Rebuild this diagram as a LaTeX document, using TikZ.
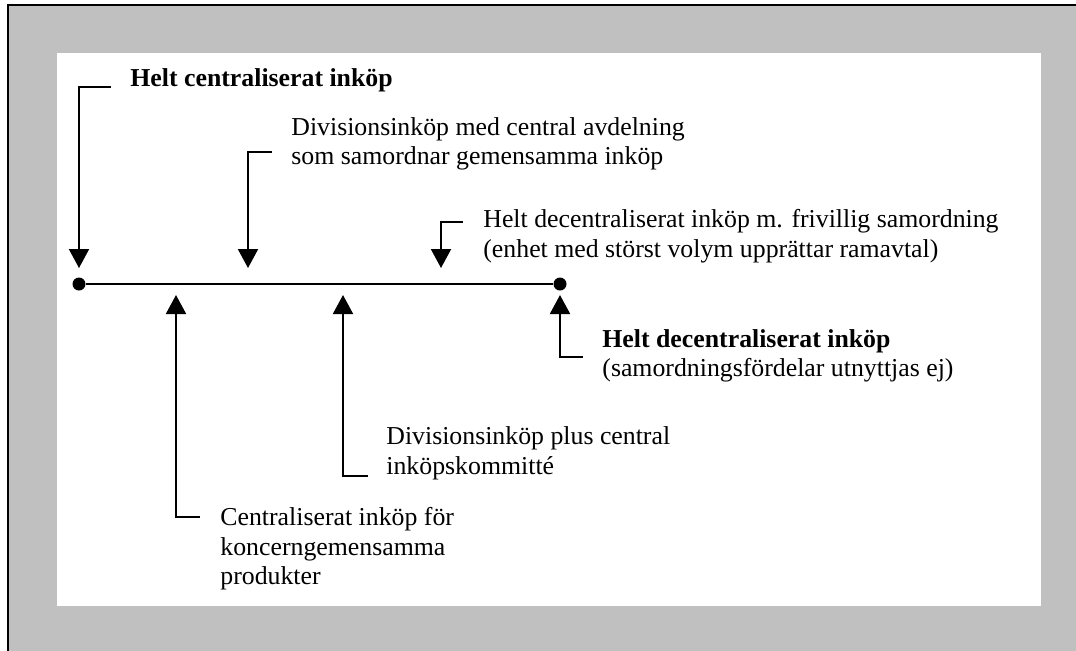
\documentclass[tikz,border=0pt]{standalone}
\usepackage{fontspec}
\setmainfont{Liberation Serif}
\usepackage{tikz}
\usetikzlibrary{arrows.meta}
\usetikzlibrary{positioning}
\definecolor{framegray}{RGB}{192,192,192}
\tikzset{lbl/.style={anchor=west, align=left, inner sep=0pt, font=\fontsize{12.9}{14.8}\selectfont}, pointer/.style={line width=1pt, -{Triangle[width=10pt,length=9.5pt]}}, down/.style={pointer, shorten >=8pt}, up/.style={pointer, shorten >=5.5pt}, dot/.style={circle, fill=black, inner sep=0pt, minimum size=6.5pt}}

\begin{document}
\begin{tikzpicture}[x=0.5pt, y=-0.5pt]
\clip (0, 0) rectangle (1076, 650);
% frame
\fill[framegray] (8, 5) rectangle (1090, 665);
\draw[line width=1pt] (8, 665) -- (8, 5) -- (1090, 5);
\fill[white] (57, 53) rectangle (1041, 606);
% axis
\node[dot] (left) at (79, 284) {};
\node[dot] (right) at (560, 284) {};
\draw[line width=1pt] (left) -- (right);
\coordinate (a1) at (79, 284);
\coordinate (a2) at (248, 284);
\coordinate (a3) at (441, 284);
\coordinate (a4) at (560, 284);
\coordinate (a5) at (176, 284);
\coordinate (a6) at (343, 284);
% labels
\node[lbl, font=\fontsize{12.9}{14.8}\selectfont\bfseries] (t1) at (130, 80) {Helt centraliserat inköp};
\node[lbl] (t2) at (291, 144) {Divisionsinköp med central avdelning\\som samordnar gemensamma inköp};
\node[lbl] (t3) at (483, 236) {Helt decentraliserat inköp m. frivillig samordning\\(enhet med störst volym upprättar ramavtal)};
\node[lbl] (t4) at (602, 356) {\textbf{Helt decentraliserat inköp}\\(samordningsfördelar utnyttjas ej)};
\node[lbl] (t5) at (220, 549) {Centraliserat inköp för\\koncerngemensamma\\produkter};
\node[lbl] (t6) at (386, 453) {Divisionsinköp plus central\\inköpskommitté};
% stubs
\coordinate (s1) at (111, 87);
\coordinate (s2) at (272, 152);
\coordinate (s3) at (463, 222);
\coordinate (s4) at (583, 357);
\coordinate (s5) at (200, 517);
\coordinate (s6) at (368, 476);
\draw[down] (s1) -| (a1);
\draw[down] (s2) -| (a2);
\draw[down] (s3) -| (a3);
\draw[up] (s4) -| (a4);
\draw[up] (s5) -| (a5);
\draw[up] (s6) -| (a6);
\end{tikzpicture}
\end{document}
